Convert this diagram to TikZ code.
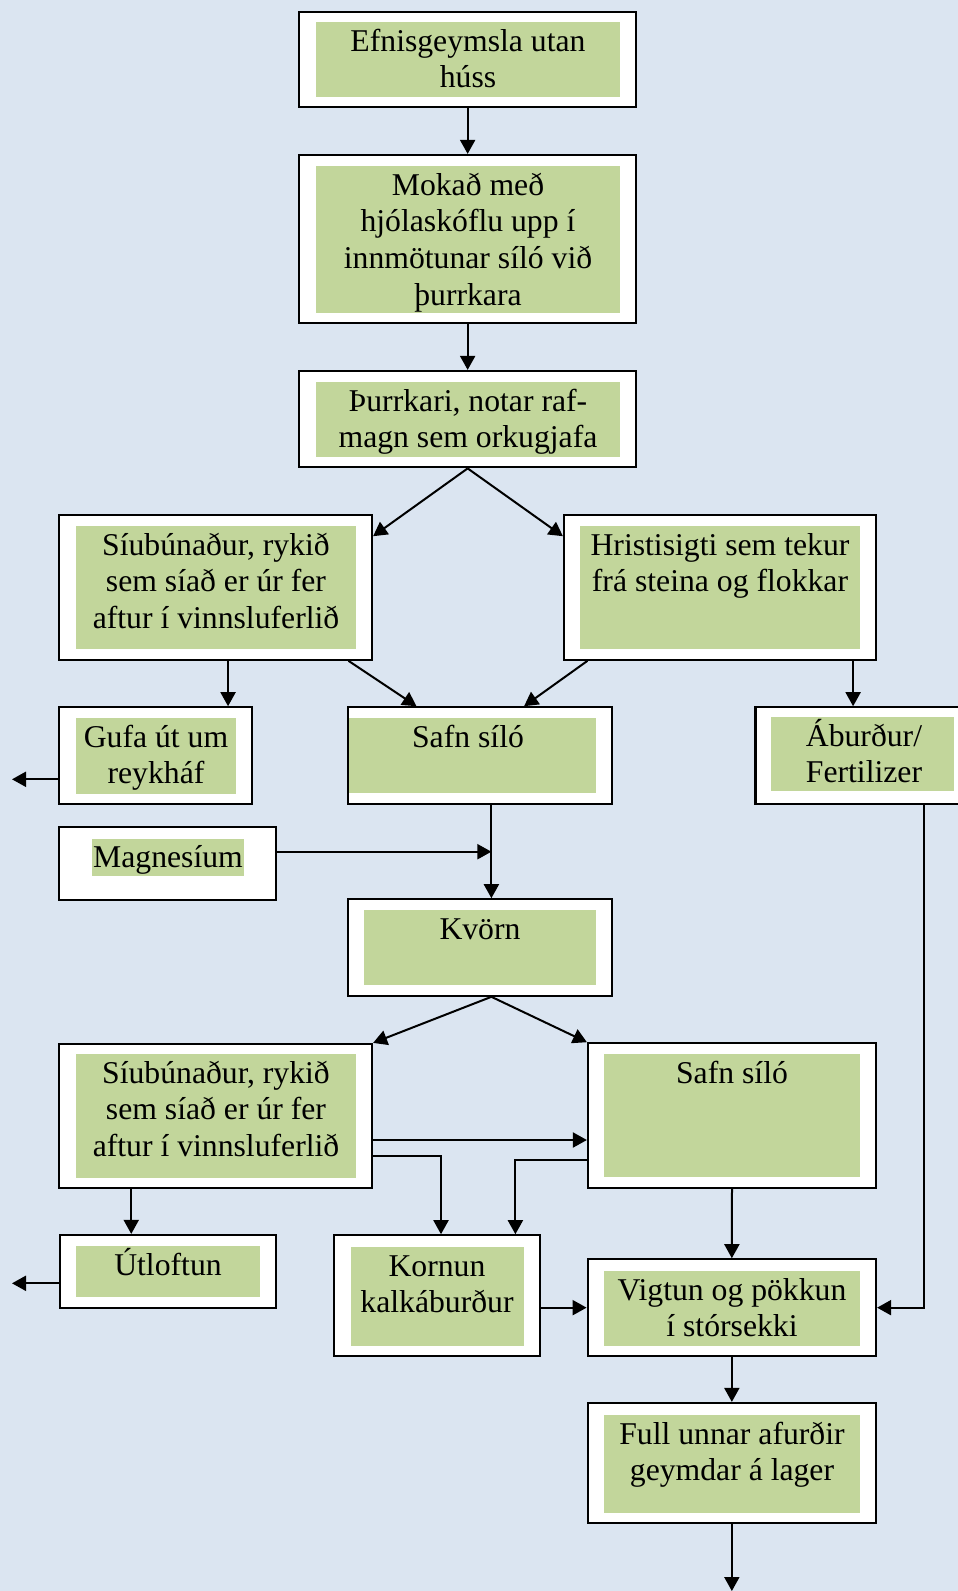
\documentclass[tikz,border=0pt]{standalone}
\usepackage{fontspec}
\setmainfont{Liberation Serif}
\usetikzlibrary{arrows.meta}

\definecolor{paper}{HTML}{DBE5F1}
\definecolor{leaf}{HTML}{C2D69B}
\newcommand{\boxfont}{\fontsize{31.7pt}{36.7pt}\selectfont}
\newcommand{\Top}{\rule{0pt}{30pt}}

\begin{document}
\begin{tikzpicture}[x=1pt,y=-1pt]

  \useasboundingbox (0,0) rectangle (958,1591);
  \fill[paper] (0,0) rectangle (958,1591);

  % node styles
  \tikzstyle{Box}=[draw,fill=white,line width=2.2pt,inner sep=0pt,shape=rectangle]
  \tikzstyle{Txt}=[anchor=north,inner sep=0pt,align=center,font=\boxfont]
  \tikzstyle{Flow}=[line width=2pt,-{Triangle[length=14pt,width=15pt]}]
  \tikzstyle{Line}=[line width=2pt]

  % outer boxes
  \node[Box,minimum width=336.7pt,minimum height=95.6pt]  (efni)  at (467.65,59.5)   {};
  \node[Box,minimum width=336.7pt,minimum height=168.3pt] (moka)  at (467.65,239.15)  {};
  \node[Box,minimum width=336.7pt,minimum height=96.3pt]  (thurr) at (467.65,419.15)  {};
  \node[Box,minimum width=312.7pt,minimum height=144.4pt] (siu1)  at (215.65,587.5)   {};
  \node[Box,minimum width=312pt,minimum height=144.4pt]   (hrist) at (720,587.5)      {};
  \node[Box,minimum width=192.7pt,minimum height=96.7pt]  (gufa)  at (155.65,755.65)  {};
  \node[Box,minimum width=264pt,minimum height=96.7pt]    (safn1) at (480,755.65)     {};
  \node[Box,minimum width=229.5pt,minimum height=96.7pt]  (abur)  at (870.25,755.65)  {};
  \node[Box,minimum width=216.7pt,minimum height=72.7pt]  (magn)  at (167.65,863.65)  {};
  \node[Box,minimum width=264pt,minimum height=96.4pt]    (kvorn) at (480,947.5)      {};
  \node[Box,minimum width=312.7pt,minimum height=144pt]   (siu2)  at (215.65,1116)    {};
  \node[Box,minimum width=288pt,minimum height=144.7pt]   (safn2) at (732,1115.65)    {};
  \node[Box,minimum width=216.1pt,minimum height=73pt]    (utl)   at (167.95,1271.5)  {};
  \node[Box,minimum width=206pt,minimum height=120.7pt]   (korn)  at (437,1295.65)    {};
  \node[Box,minimum width=288.3pt,minimum height=96.7pt]  (vigt)  at (731.85,1307.65) {};
  \node[Box,minimum width=288.3pt,minimum height=120.3pt] (full)  at (731.85,1463.15) {};

  % green panels
  \fill[leaf] (316,22)       rectangle (620,96.7);
  \fill[leaf] (316,166)      rectangle (620,312.7);
  \fill[leaf] (316,382)      rectangle (620,456.7);
  \fill[leaf] (75.7,526)     rectangle (356.2,648.7);
  \fill[leaf] (579.8,526)    rectangle (859.7,648.7);
  \fill[leaf] (75.7,718)     rectangle (236,793.7);
  \fill[leaf] (349,718)      rectangle (595.6,792.7);
  \fill[leaf] (771,717)      rectangle (954,790.7);
  \fill[leaf] (363.8,910)    rectangle (595.6,984.7);
  \fill[leaf] (75.7,1054)    rectangle (356.2,1177.7);
  \fill[leaf] (603.8,1054)   rectangle (859.7,1176.7);
  \fill[leaf] (75.7,1246)    rectangle (260.2,1297);
  \fill[leaf] (350.6,1247)   rectangle (524,1345.7);
  \fill[leaf] (604,1271)     rectangle (860,1345.7);
  \fill[leaf] (604,1415)     rectangle (860,1512.7);

  % texts
  \node[Txt] (t-efni)  at (468,21)    {\Top Efnisgeymsla utan\\húss};
  \node[Txt] (t-moka)  at (468,165)   {\Top Mokað með\\hjólaskóflu upp í\\innmötunar síló við\\þurrkara};
  \node[Txt] (t-thurr) at (468,381)   {\Top Þurrkari, notar raf-\\magn sem orkugjafa};
  \node[Txt] (t-siu1)  at (216,525)   {\Top Síubúnaður, rykið\\sem síað er úr fer\\aftur í vinnsluferlið};
  \node[Txt] (t-hrist) at (720,525)   {\Top Hristisigti sem tekur\\frá steina og flokkar};
  \node[Txt] (t-gufa)  at (156,717)   {\Top Gufa út um\\reykháf};
  \node[Txt] (t-safn1) at (468,717)   {\Top Safn síló};
  \node[Txt] (t-abur)  at (864,716)   {\Top Áburður/\\Fertilizer};
  \node[Txt,fill=leaf,text height=28.7pt,text depth=8.7pt,inner xsep=1pt]
             (t-magn)  at (168,838.3) {Magnesíum};
  \node[Txt] (t-kvorn) at (480,909)   {\Top Kvörn};
  \node[Txt] (t-siu2)  at (216,1053)  {\Top Síubúnaður, rykið\\sem síað er úr fer\\aftur í vinnsluferlið};
  \node[Txt] (t-safn2) at (732,1053)  {\Top Safn síló};
  \node[Txt] (t-utl)   at (168,1245)  {\Top Útloftun};
  \node[Txt] (t-korn)  at (437,1246)  {\Top Kornun\\kalkáburður};
  \node[Txt] (t-vigt)  at (732,1270)  {\Top Vigtun og pökkun\\í stórsekki};
  \node[Txt] (t-full)  at (732,1414)  {\Top Full unnar afurðir\\geymdar á lager};

  % helper points
  \coordinate (g1)   at ([xshift=72.4pt]gufa.north);
  \coordinate (h1)   at ([xshift=-24pt]hrist.south east);
  \coordinate (out1) at (12,779.3);
  \coordinate (mix)  at (491.4,851.7);
  \coordinate (s2)   at ([yshift=-24pt]siu2.east);
  \coordinate (k1)   at ([xshift=4pt]korn.north);
  \coordinate (k2)   at ([xshift=78.4pt]korn.north);
  \coordinate (u1)   at ([xshift=-36.7pt]utl.north);
  \coordinate (out2) at (12,1283.3);
  \coordinate (rt)   at (923.5,1307.65);
  \coordinate (fend) at (731.85,1591);

  % connectors
  \draw[Flow] (efni.south) -- (moka.north);
  \draw[Flow] (moka.south) -- (thurr.north);
  \draw[Flow] (thurr.south) -- ([yshift=-22pt]siu1.north east);
  \draw[Flow] (thurr.south) -- ([yshift=-22pt]hrist.north west);
  \draw[Flow] (g1 |- siu1.south) -- (g1);
  \draw[Flow] ([xshift=-24.6pt]siu1.south east) -- ([xshift=69.6pt]safn1.north west);
  \draw[Flow] ([xshift=24.6pt]hrist.south west) -- ([xshift=-89pt]safn1.north east);
  \draw[Flow] (h1) -- (h1 |- abur.north);
  \draw[Flow] (gufa.west |- out1) -- (out1);
  \draw[Line] (safn1.south -| mix) -- (mix);
  \draw[Flow] (mix) -- (mix |- kvorn.north);
  \draw[Flow] (magn.east |- mix) -- (mix);
  \draw[Flow] (mix |- kvorn.south) -- (siu2.north east);
  \draw[Flow] (mix |- kvorn.south) -- (safn2.north west);
  \draw[Flow] (s2) -- (s2 -| safn2.west);
  \draw[Flow] ([yshift=-39.7pt]siu2.east) -| (k1);
  \draw[Flow] ([yshift=-44pt]safn2.west) -| (k2);
  \draw[Flow] (u1 |- siu2.south) -- (u1);
  \draw[Flow] (utl.west |- out2) -- (out2);
  \draw[Flow] (safn2.south) -- (vigt.north);
  \draw[Flow] (korn.east |- vigt.west) -- (vigt.west);
  \draw[Flow] (rt |- abur.south) -- (rt) -- (vigt.east);
  \draw[Flow] (vigt.south) -- (full.north);
  \draw[Flow] (full.south) -- (fend);

\end{tikzpicture}
\end{document}
